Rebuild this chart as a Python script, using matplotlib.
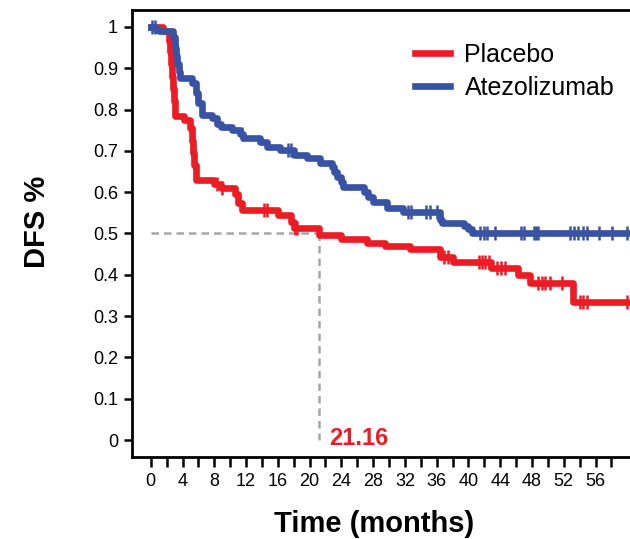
import numpy as np
import matplotlib
matplotlib.use("Agg")
import matplotlib.pyplot as plt

plt.rcParams['font.family'] = ['Liberation Sans', 'DejaVu Sans']

# Kaplan-Meier step points: time of each drop (months) and survival after it
placebo_t = [0, 1.5, 2.3, 2.45, 2.6, 2.7, 2.8, 2.9, 3.05, 4.2, 5.0, 5.15, 5.3, 5.5, 5.7,
             8.0, 8.8, 10.6, 11.0, 11.5, 16.0, 17.6, 18.0, 21.16, 24.0, 27.2, 29.5,
             32.7, 36.4, 38.0, 42.8, 46.2, 47.8, 53.2]
placebo_s = [1.0, 0.99, 0.965, 0.94, 0.91, 0.88, 0.85, 0.82, 0.785, 0.775, 0.755, 0.725,
             0.695, 0.665, 0.63, 0.62, 0.61, 0.595, 0.575, 0.557, 0.545, 0.528, 0.513,
             0.496, 0.486, 0.478, 0.470, 0.462, 0.443, 0.431, 0.416, 0.40, 0.38, 0.334]
placebo_cens = [8.4, 9.0, 14.2, 14.6, 18.1, 18.4, 36.9, 37.4, 41.3, 41.7, 42.1, 42.6,
                43.6, 44.1, 44.6, 48.7, 49.2, 49.7, 50.3, 51.8, 54.0, 54.4, 54.9, 60.0]

atezo_t = [0, 0.6, 1.0, 2.8, 3.0, 3.15, 3.3, 3.5, 3.7, 5.2, 5.7, 6.0, 6.4, 7.7, 8.4, 8.8,
           10.2, 11.2, 11.6, 13.8, 14.7, 16.3, 18.0, 19.7, 21.3, 22.8, 23.1, 23.5, 24.0,
           24.2, 26.8, 27.4, 28.0, 29.8, 31.8, 36.4, 36.7, 39.4, 39.9, 40.4]
atezo_s = [1.0, 0.993, 0.99, 0.975, 0.95, 0.93, 0.91, 0.89, 0.876, 0.865, 0.84, 0.815,
           0.787, 0.78, 0.765, 0.757, 0.75, 0.74, 0.731, 0.722, 0.71, 0.702, 0.69, 0.683,
           0.671, 0.66, 0.648, 0.637, 0.625, 0.612, 0.60, 0.588, 0.576, 0.562, 0.552,
           0.533, 0.525, 0.518, 0.51, 0.501]
atezo_cens = [0.2, 0.5, 11.5, 17.3, 17.6, 32.4, 32.8, 34.6, 35.2, 36.0, 41.5, 41.9, 42.3,
              43.4, 46.6, 47.0, 48.2, 48.5, 48.8, 52.8, 53.3, 53.8, 54.4, 54.9, 56.4,
              58.1, 60.0]

median_placebo = 21.16
t_end = 61.6

red = '#ED1C24'
blue = '#3953A4'


def survival_at(t, times, surv):
    idx = np.searchsorted(times, t, side='right') - 1
    return np.asarray(surv)[idx]


fig = plt.figure(figsize=(6.3, 5.39), dpi=100)
ax = fig.add_axes([132 / 630, 82 / 539, 508 / 630, 447 / 539])

# reference lines at the placebo median
ax.plot([0, median_placebo], [0.5, 0.5], color='#A7A7A7', lw=1.8,
        linestyle=(0, (3, 2)), zorder=1)
ax.plot([median_placebo, median_placebo], [0.5, 0], color='#A7A7A7', lw=1.8,
        linestyle=(0, (3, 2)), zorder=1)

for times, surv, cens, col, lab in [(placebo_t, placebo_s, placebo_cens, red, 'Placebo'),
                                     (atezo_t, atezo_s, atezo_cens, blue, 'Atezolizumab')]:
    x = list(times) + [t_end]
    y = list(surv) + [surv[-1]]
    ax.step(x, y, where='post', color=col, lw=4.8, label=lab, zorder=3)
    ax.plot(cens, survival_at(np.array(cens), times, surv), linestyle='none',
            marker='|', ms=9.5, mew=1.8, color=col, zorder=4)

ax.text(22.4, -0.012, '%.2f' % median_placebo, color=red, fontsize=17,
        fontweight='bold', va='baseline', ha='left')

ax.set_xlim(-2.36, t_end)
ax.set_ylim(-0.041, 1.041)
ax.set_xticks(np.arange(0, 60, 2))
ax.set_xticklabels([str(v) if v % 4 == 0 else '' for v in range(0, 60, 2)])
ax.set_yticks(np.arange(0, 1.01, 0.1))
ax.set_yticklabels(['0', '0.1', '0.2', '0.3', '0.4', '0.5', '0.6', '0.7', '0.8', '0.9', '1'])
ax.tick_params(axis='x', length=7.5, width=1.8, labelsize=13, pad=4)
ax.tick_params(axis='y', length=6, width=1.8, labelsize=13, pad=4)
for side in ['left', 'bottom', 'top']:
    ax.spines[side].set_linewidth(2)
ax.spines['right'].set_visible(False)

fig.text(374 / 630, 7 / 539, 'Time (months)', fontsize=21, fontweight='bold',
         ha='center', va='baseline')
fig.text(37 / 630, 1 - 222 / 539, 'DFS %', fontsize=21, fontweight='bold',
         rotation=90, ha='center', va='center')

ax.legend(loc='upper left', bbox_to_anchor=(392 / 630, 1 - 20 / 539),
          bbox_transform=fig.transFigure, frameon=False, fontsize=18,
          handlelength=1.4, handletextpad=0.6, labelspacing=0.38)

fig.savefig('out.png', dpi=100)
